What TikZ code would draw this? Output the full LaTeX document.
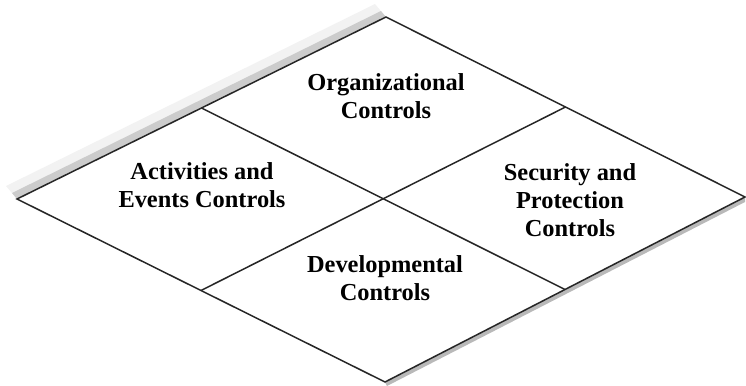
\documentclass[tikz,border=0pt]{standalone}
\usepackage{fontspec}
\setmainfont{Liberation Serif}
\usetikzlibrary{calc}
\begin{document}
\begin{tikzpicture}[x=0.5pt,y=-0.5pt,
  edge/.style={draw=black!85,line width=0.75pt,line join=miter},
  label/.style={font=\fontsize{12.2}{14}\selectfont\bfseries,align=center,inner sep=0pt}]
\useasboundingbox (0,0) rectangle (746,386);
% outline corners
\coordinate (L) at (17,199);
\coordinate (T) at (386,17);
\coordinate (R) at (745,197);
\coordinate (B) at (385,382);
% edge midpoints and centre
\coordinate (TL) at ($(L)!0.5!(T)$);
\coordinate (TR) at ($(T)!0.5!(R)$);
\coordinate (BR) at ($(R)!0.5!(B)$);
\coordinate (BL) at ($(B)!0.5!(L)$);
% raised rim along the upper left edge
\fill[gray!10] (L) -- (T) -- ++(-11,-13) -- ($(L)+(-11,-13)$) -- cycle;
\fill[gray!40] (L) -- (T) -- ++(-5,-6) -- ($(L)+(-5,-6)$) -- cycle;
% shadow under the lower right edge
\fill[gray!55] (B) -- (R) -- ++(0,5) -- ($(B)+(2,4)$) -- cycle;
% the diamond and its dividing lines
\fill[white] (L) -- (T) -- (R) -- (B) -- cycle;
\draw[edge] (L) -- (T) -- (R) -- (B) -- cycle;
\draw[edge] (TL) -- (BR);
\draw[edge] (TR) -- (BL);
% quadrant labels
\node[label] (org) at (386,96) {Organizational\\Controls};
\node[label] (act) at (202,185) {Activities and\\Events Controls};
\node[label] (sec) at (570,200) {Security and\\Protection\\Controls};
\node[label] (dev) at (385,278) {Developmental\\Controls};
\end{tikzpicture}
\end{document}
